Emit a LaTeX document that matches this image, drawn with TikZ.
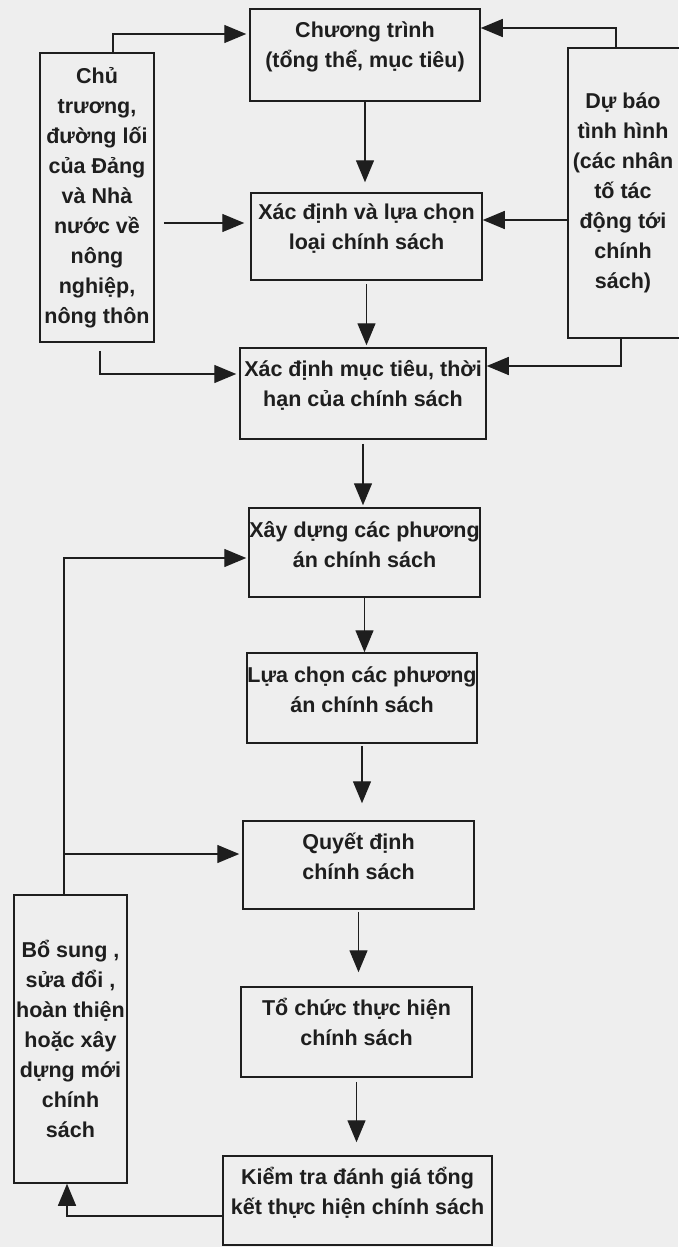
\documentclass[tikz,border=0pt]{standalone}
\usepackage{fontspec}
\setmainfont{Liberation Sans}
\usetikzlibrary{arrows.meta}
\definecolor{ink}{RGB}{30,30,30}
\definecolor{paper}{RGB}{238,238,238}
\begin{document}
\begin{tikzpicture}[x=1pt,y=-1pt,
  box/.style={draw=ink, line width=1.5pt, inner sep=0pt, rectangle},
  txt/.style={font=\fontsize{21.5}{30}\selectfont\bfseries, text=ink, align=center, inner sep=0pt},
  arr/.style={draw=ink, line width=1.4pt, -{Triangle[length=22pt,width=18pt]}}]
\fill[paper] (0,0) rectangle (678,1247);
\useasboundingbox (0,0) rectangle (678,1247);

% main column
\node[box, minimum width=230pt, minimum height=92pt] (prog) at (365,55) {};
\node[txt] (prog-t) at ([yshift=8pt]prog.center) {Chương trình\\(tổng thể, mục tiêu)};
\node[box, minimum width=231pt, minimum height=87pt] (loai) at (366.5,236.5) {};
\node[txt] (loai-t) at ([yshift=8pt]loai.center) {Xác định và lựa chọn\\loại chính sách};
\node[box, minimum width=246pt, minimum height=91pt] (mt) at (363,393.5) {};
\node[txt] (mt-t) at ([yshift=8pt]mt.center) {Xác định mục tiêu, thời\\hạn của chính sách};
\node[box, minimum width=231pt, minimum height=89pt] (xd) at (364.5,552.5) {};
\node[txt] (xd-t) at ([yshift=8pt]xd.center) {Xây dựng các phương\\án chính sách};
\node[box, minimum width=230pt, minimum height=90pt] (lc) at (362,698) {};
\node[txt] (lc-t) at ([yshift=8pt]lc.center) {Lựa chọn các phương\\án chính sách};
\node[box, minimum width=231pt, minimum height=88pt] (qd) at (358.5,865) {};
\node[txt] (qd-t) at ([yshift=9pt]qd.center) {Quyết định\\chính sách};
\node[box, minimum width=231pt, minimum height=90pt] (tc) at (356.5,1032) {};
\node[txt] (tc-t) at ([yshift=10pt]tc.center) {Tổ chức thực hiện\\chính sách};
\node[box, minimum width=269pt, minimum height=89pt] (kt) at (357.5,1200.5) {};
\node[txt] (kt-t) at ([yshift=8pt]kt.center) {Kiểm tra đánh giá tổng\\kết thực hiện chính sách};

% side boxes
\node[box, minimum width=114pt, minimum height=289pt] (L1) at (97,197.5) {};
\node[txt] (L1-t) at (L1.center) {Chủ\\trương,\\đường lối\\của Đảng\\và Nhà\\nước về\\nông\\nghiệp,\\nông thôn};
\node[box, minimum width=117pt, minimum height=290pt] (R) at (626.5,193) {};
\node[txt] (R-t) at (623,193) {Dự báo\\tình hình\\(các nhân\\tố tác\\động tới\\chính\\sách)};
\node[box, minimum width=113pt, minimum height=288pt] (BS) at (70.5,1039) {};
\node[txt] (BS-t) at (BS.center) {Bổ sung ,\\sửa đổi ,\\hoàn thiện\\hoặc xây\\dựng mới\\chính\\sách};

% helper levels
\coordinate (yA) at (0,34);
\coordinate (yB) at (0,223);
\coordinate (yC) at (0,374);
\coordinate (yD) at (0,28);
\coordinate (yE) at (0,220);
\coordinate (yF) at (0,366);
\coordinate (yG) at (0,1216);
\coordinate (xH) at (67,0);
\coordinate (yI) at (0,558);
\coordinate (xJ) at (64,0);
\coordinate (yK) at (0,854);

% left inputs
\draw[arr, shorten >=3pt] ([xshift=16pt]L1.north) |- (prog.west |- yA);
\draw[arr, shorten <=9pt, shorten >=6pt] (L1.east |- yB) -- (loai.west |- yB);
\draw[arr, shorten <=8pt, shorten >=3pt] ([xshift=3pt]L1.south) |- (mt.west |- yC);

% right inputs
\draw[arr] ([xshift=-10.5pt]R.north) |- (prog.east |- yD);
\draw[arr] (R.west |- yE) -- (loai.east |- yE);
\draw[arr] ([xshift=-5.5pt]R.south) |- (mt.east |- yF);

% main chain
\draw[arr, shorten >=10pt] (prog.south) -- (prog.south |- loai.north);
\draw[arr, shorten <=3pt, shorten >=2pt] (loai.south) -- (loai.south |- mt.north);
\draw[arr, shorten <=4pt, shorten >=2pt] (mt.south) -- (mt.south |- xd.north);
\draw[arr] (xd.south) -- (xd.south |- lc.north);
\draw[arr, shorten <=2pt, shorten >=17pt] (lc.south) -- (lc.south |- qd.north);
\draw[arr, shorten <=2pt, shorten >=14pt] (qd.south) -- (qd.south |- tc.north);
\draw[arr, shorten <=4pt, shorten >=13pt] (tc.south) -- (tc.south |- kt.north);

% feedback loop
\draw[arr] (kt.west |- yG) -| (xH |- BS.south);
\draw[arr, shorten >=2pt] (xJ |- BS.north) |- (xd.west |- yI);
\draw[arr, shorten >=3pt] (xJ |- yK) -- (qd.west |- yK);
\end{tikzpicture}
\end{document}
